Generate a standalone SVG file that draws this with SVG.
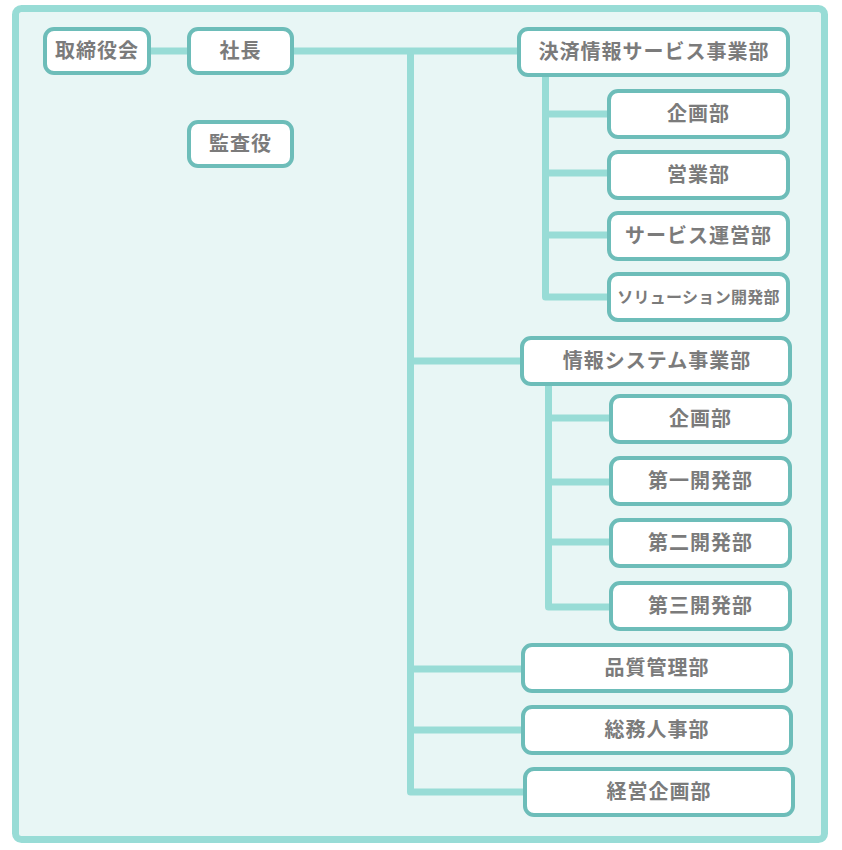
<svg xmlns="http://www.w3.org/2000/svg" width="842" height="850" viewBox="0 0 842 850">
<style>
.frame{fill:#e8f6f5;stroke:#98dcd6;stroke-width:7}
.box{fill:#ffffff;stroke:#6dbdb9;stroke-width:4}
.ln{fill:none;stroke:#98dcd6;stroke-width:7;stroke-linejoin:round;stroke-linecap:butt}
.t{font-family:"Noto Sans CJK JP","Noto Sans",sans-serif;font-weight:bold;font-size:20px;fill:#7b7b7b;text-anchor:middle;letter-spacing:1px}
.s{font-size:16px;letter-spacing:0.3px}
</style>
<rect class="frame" x="15.5" y="8.5" width="809" height="831" rx="6"/>
<g id="connectors">
<path class="ln" d="M151 51 H189"/>
<path class="ln" d="M292 51 H519"/>
<path class="ln" d="M410.5 51 V792 H525"/>
<path class="ln" d="M410.5 361 H522"/>
<path class="ln" d="M410.5 669 H523"/>
<path class="ln" d="M410.5 730 H523"/>
<path class="ln" d="M545.5 77 V297 H609"/>
<path class="ln" d="M545.5 114 H609"/>
<path class="ln" d="M545.5 173 H609"/>
<path class="ln" d="M545.5 235 H609"/>
<path class="ln" d="M548.5 385 V607 H611"/>
<path class="ln" d="M548.5 418 H611"/>
<path class="ln" d="M548.5 482 H611"/>
<path class="ln" d="M548.5 542 H611"/>
</g>
<g id="board"><rect class="box" x="45" y="29" width="104" height="44" rx="9"/><text class="t" x="97" y="58">取締役会</text></g>
<g id="president"><rect class="box" x="189" y="29" width="103" height="44" rx="9"/><text class="t" x="240.5" y="58">社長</text></g>
<g id="auditor"><rect class="box" x="189" y="122" width="103" height="44" rx="9"/><text class="t" x="240.5" y="151">監査役</text></g>
<g id="payment"><rect class="box" x="519" y="29" width="269" height="46" rx="9"/><text class="t" x="654" y="59">決済情報サービス事業部</text></g>
<g id="p-plan"><rect class="box" x="609" y="91" width="179" height="46" rx="9"/><text class="t" x="698.5" y="121">企画部</text></g>
<g id="p-sales"><rect class="box" x="609" y="152" width="179" height="46" rx="9"/><text class="t" x="698.5" y="182">営業部</text></g>
<g id="p-ops"><rect class="box" x="609" y="213" width="179" height="46" rx="9"/><text class="t" x="698.5" y="243">サービス運営部</text></g>
<g id="p-sol"><rect class="box" x="609" y="274" width="179" height="46" rx="9"/><text class="t s" x="698.5" y="303">ソリューション開発部</text></g>
<g id="infosys"><rect class="box" x="522" y="338" width="268" height="46" rx="9"/><text class="t" x="657" y="368">情報システム事業部</text></g>
<g id="i-plan"><rect class="box" x="611" y="396" width="179" height="46" rx="9"/><text class="t" x="700.5" y="426">企画部</text></g>
<g id="i-dev1"><rect class="box" x="611" y="458" width="179" height="46" rx="9"/><text class="t" x="700.5" y="488">第一開発部</text></g>
<g id="i-dev2"><rect class="box" x="611" y="520" width="179" height="46" rx="9"/><text class="t" x="700.5" y="550">第二開発部</text></g>
<g id="i-dev3"><rect class="box" x="611" y="583" width="179" height="46" rx="9"/><text class="t" x="700.5" y="613">第三開発部</text></g>
<g id="qa"><rect class="box" x="523" y="645" width="268" height="46" rx="9"/><text class="t" x="657" y="675">品質管理部</text></g>
<g id="ga"><rect class="box" x="523" y="707" width="268" height="46" rx="9"/><text class="t" x="657" y="737">総務人事部</text></g>
<g id="mp"><rect class="box" x="525" y="769" width="268" height="46" rx="9"/><text class="t" x="659" y="799">経営企画部</text></g>
</svg>
